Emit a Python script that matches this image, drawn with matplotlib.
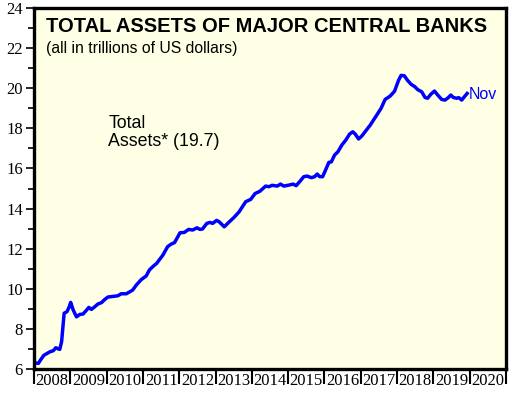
import matplotlib.pyplot as plt
from matplotlib.ticker import MultipleLocator, FixedLocator, NullFormatter

# decimal year, trillions of US dollars
years = [2008.0, 2008.12, 2008.18, 2008.27, 2008.44, 2008.53, 2008.60, 2008.67, 2008.71, 2008.76,
         2008.83, 2008.91, 2008.97, 2009.01, 2009.08, 2009.17, 2009.26, 2009.35, 2009.43, 2009.51,
         2009.58, 2009.67, 2009.76, 2009.86, 2009.95, 2010.04, 2010.18, 2010.31, 2010.40, 2010.54,
         2010.63, 2010.72, 2010.82, 2010.95, 2011.09, 2011.18, 2011.27, 2011.38, 2011.55, 2011.68,
         2011.78, 2011.87, 2011.96, 2012.02, 2012.14, 2012.26, 2012.37, 2012.49, 2012.57, 2012.64,
         2012.76, 2012.85, 2012.92, 2013.03, 2013.10, 2013.24, 2013.38, 2013.51, 2013.65, 2013.74,
         2013.83, 2013.97, 2014.09, 2014.22, 2014.38, 2014.47, 2014.56, 2014.70, 2014.79, 2014.88,
         2015.02, 2015.14, 2015.22, 2015.34, 2015.43, 2015.52, 2015.64, 2015.73, 2015.80, 2015.87,
         2015.95, 2016.03, 2016.12, 2016.19, 2016.28, 2016.37, 2016.48, 2016.59, 2016.69, 2016.78,
         2016.85, 2016.94, 2017.03, 2017.14, 2017.26, 2017.35, 2017.44, 2017.56, 2017.67, 2017.81,
         2017.93, 2018.04, 2018.11, 2018.20, 2018.29, 2018.39, 2018.48, 2018.57, 2018.68, 2018.77,
         2018.84, 2018.93, 2019.03, 2019.12, 2019.23, 2019.32, 2019.41, 2019.48, 2019.55, 2019.64,
         2019.70, 2019.78, 2019.87, 2019.93]
assets = [6.31, 6.28, 6.45, 6.68, 6.86, 6.91, 7.06, 7.00, 6.98, 7.36,
          8.78, 8.86, 9.10, 9.32, 8.94, 8.60, 8.72, 8.74, 8.90, 9.07,
          8.97, 9.10, 9.24, 9.31, 9.47, 9.59, 9.62, 9.65, 9.75, 9.75,
          9.84, 9.94, 10.19, 10.45, 10.64, 10.94, 11.10, 11.27, 11.68, 12.10,
          12.23, 12.30, 12.59, 12.79, 12.81, 12.96, 12.93, 13.04, 12.96, 12.98,
          13.26, 13.31, 13.26, 13.41, 13.34, 13.09, 13.34, 13.56, 13.84, 14.09,
          14.34, 14.46, 14.75, 14.86, 15.12, 15.09, 15.16, 15.12, 15.22, 15.12,
          15.17, 15.22, 15.14, 15.39, 15.59, 15.62, 15.54, 15.59, 15.72, 15.59,
          15.59, 15.92, 16.30, 16.33, 16.67, 16.83, 17.17, 17.42, 17.71, 17.83,
          17.71, 17.47, 17.62, 17.88, 18.16, 18.41, 18.66, 19.00, 19.44, 19.61,
          19.85, 20.39, 20.64, 20.62, 20.39, 20.19, 20.09, 19.93, 19.82, 19.54,
          19.50, 19.70, 19.86, 19.66, 19.44, 19.41, 19.53, 19.66, 19.54, 19.50,
          19.53, 19.41, 19.61, 19.74]
year_labels = [str(y) for y in range(2008, 2021)]


def main():
    fig = plt.figure(figsize=(5.16, 3.93), dpi=100)
    ax = fig.add_axes([0.0659, 0.0611, 0.9147, 0.9185])
    ax.set_facecolor('#ffffe6')

    ax.plot(years, assets, color='#0000ff', lw=2.5, solid_joinstyle='round')
    ax.text(years[-1] + 0.05, assets[-1] - 0.05, 'Nov', color='#0000ff', fontsize=11.5,
            family='Liberation Sans', va='center', ha='left')

    ax.set_xlim(2008, 2021)
    ax.set_ylim(6, 24)

    ax.yaxis.set_major_locator(MultipleLocator(2))
    ax.yaxis.set_minor_locator(MultipleLocator(1))
    ax.tick_params(axis='y', which='major', direction='out', length=6, width=1.2,
                   labelsize=12, pad=2)
    ax.tick_params(axis='y', which='minor', direction='out', length=4, width=1.2)
    for lab in ax.get_yticklabels():
        lab.set_family('Liberation Serif')

    ax.xaxis.set_major_locator(FixedLocator(range(2008, 2022)))
    ax.xaxis.set_major_formatter(NullFormatter())
    ax.xaxis.set_minor_locator(FixedLocator([y + 0.5 for y in range(2008, 2021)]))
    ax.set_xticklabels(year_labels, minor=True, family='Liberation Serif', fontsize=12)
    ax.tick_params(axis='x', which='major', direction='out', length=11, width=1.5)
    ax.tick_params(axis='x', which='minor', length=0, pad=3)

    for side in ax.spines.values():
        side.set_linewidth(2.4)

    ax.text(0.025, 0.975, 'TOTAL ASSETS OF MAJOR CENTRAL BANKS', transform=ax.transAxes,
            fontsize=14.5, fontweight='bold', family='Liberation Sans', va='top')
    ax.text(0.025, 0.91, '(all in trillions of US dollars)', transform=ax.transAxes,
            fontsize=11.3, family='Liberation Sans', va='top')
    ax.text(2010.05, 17.8, 'Total\nAssets* (19.7)', fontsize=12.8, family='Liberation Sans',
            va='center', ha='left', linespacing=1.1)

    fig.savefig('out.png', dpi=100)


if __name__ == '__main__':
    main()
